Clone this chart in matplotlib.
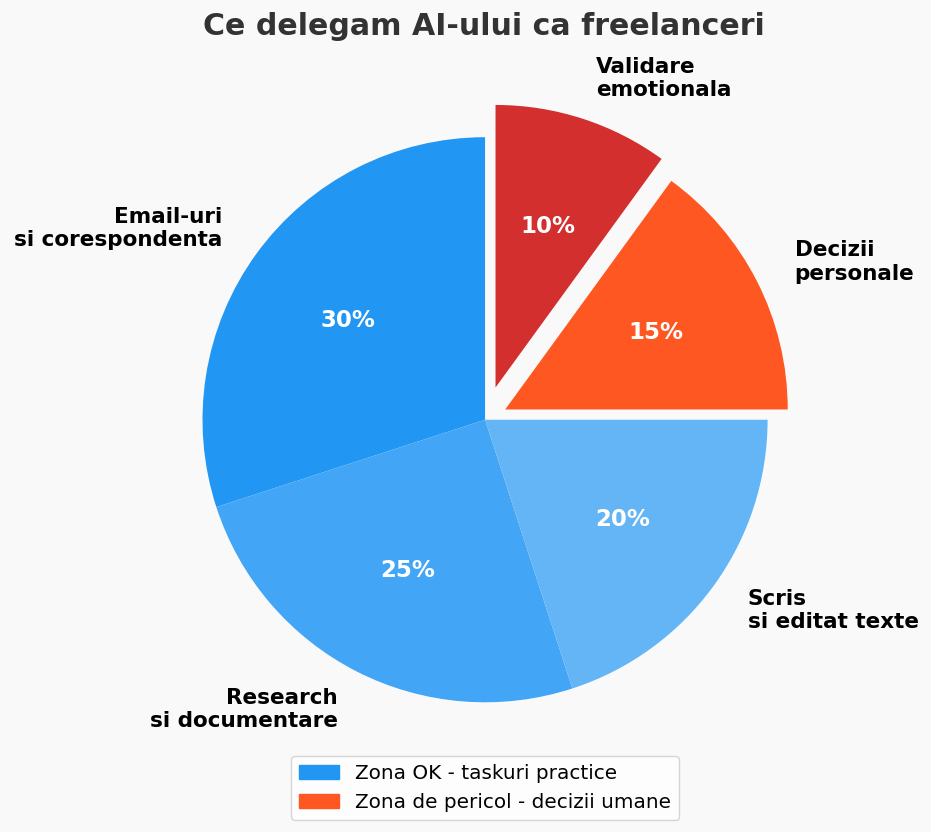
import matplotlib
matplotlib.use("Agg")
import matplotlib.pyplot as plt
from matplotlib.patches import Patch

labels = ["Email-uri\nsi corespondenta", "Research\nsi documentare", "Scris\nsi editat texte",
          "Decizii\npersonale", "Validare\nemotionala"]
values = [30, 25, 20, 15, 10]
colors = ["#2196F3", "#42A5F5", "#64B5F6", "#FF5722", "#D32F2F"]
explode = [0, 0, 0, 0.08, 0.12]
legend_labels = ["Zona OK - taskuri practice", "Zona de pericol - decizii umane"]
legend_colors = ["#2196F3", "#FF5722"]

bg = "#f9f9f9"
fig = plt.figure(figsize=(9.31, 8.32), dpi=100, facecolor=bg)
ax = fig.add_axes([0.021, 0.071, 1.0, 0.849])
ax.set_facecolor(bg)
wedges, texts, autotexts = ax.pie(values, labels=labels, colors=colors, explode=explode,
                                  startangle=90, counterclock=True, autopct="%1.0f%%",
                                  pctdistance=0.6, labeldistance=1.15,
                                  wedgeprops=dict(edgecolor="none", linewidth=0),
                                  textprops=dict(fontsize=15.5, fontweight="bold"))
for t in autotexts:
    t.set_color("white")
    t.set_fontsize(16.5)
ax.set_aspect("equal")
fig.suptitle("Ce delegam AI-ului ca freelanceri", fontsize=21.6, fontweight="bold",
             color="#333333", x=0.52, y=0.985)
fig.legend(handles=[Patch(color=c, label=l) for c, l in zip(legend_colors, legend_labels)],
           loc="lower center", bbox_to_anchor=(0.521, 0.003), fontsize=14.4, frameon=True)
fig.savefig("out.png", dpi=100, facecolor=bg)
